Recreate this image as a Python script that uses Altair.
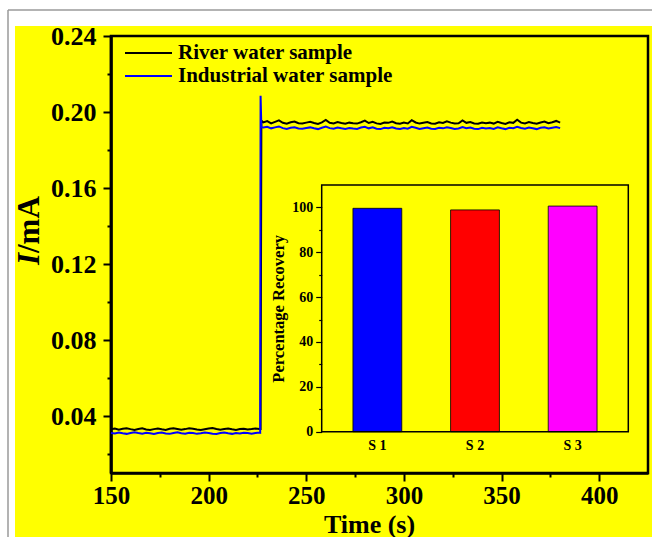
import altair as alt
import pandas as pd

FONT = "Liberation Serif"

# ---------------- main chronoamperogram data ----------------
series_names = ["River water sample", "Industrial water sample"]
series_colors = ["#000000", "#0000ff"]

t_base = list(range(150, 227, 2))  # 150 ... 226 s
river_base = [0.0330, 0.0334, 0.0328, 0.0333, 0.0336, 0.0331, 0.0327, 0.0332, 0.0335, 0.0329,
              0.0326, 0.0331, 0.0334, 0.0330, 0.0327, 0.0333, 0.0336, 0.0332, 0.0328, 0.0331,
              0.0335, 0.0333, 0.0329, 0.0326, 0.0330, 0.0334, 0.0337, 0.0332, 0.0328, 0.0331,
              0.0334, 0.0330, 0.0327, 0.0331, 0.0333, 0.0329, 0.0331, 0.0334, 0.0332]
ind_base = [0.0311, 0.0308, 0.0313, 0.0309, 0.0306, 0.0311, 0.0314, 0.0310, 0.0307, 0.0312,
            0.0309, 0.0305, 0.0310, 0.0313, 0.0308, 0.0306, 0.0311, 0.0314, 0.0309, 0.0307,
            0.0312, 0.0310, 0.0306, 0.0309, 0.0313, 0.0311, 0.0307, 0.0305, 0.0310, 0.0313,
            0.0309, 0.0306, 0.0311, 0.0308, 0.0312, 0.0310, 0.0307, 0.0311, 0.0313]

river_jump_t = [226.6, 227.0]
river_jump_v = [0.0332, 0.1955]
ind_jump_t = [226.4, 226.6, 227.0]
ind_jump_v = [0.0312, 0.2085, 0.1920]

t_plat = list(range(228, 381, 2))  # 228 ... 380 s
river_plat = [0.1945, 0.1952, 0.1940, 0.1948, 0.1956, 0.1943, 0.1938, 0.1946, 0.1950, 0.1941, 0.1939,
              0.1944, 0.1949, 0.1942, 0.1937, 0.1945, 0.1958, 0.1943, 0.1940, 0.1947, 0.1942, 0.1938,
              0.1944, 0.1941, 0.1939, 0.1946, 0.1955, 0.1942, 0.1948, 0.1940, 0.1937, 0.1945, 0.1943,
              0.1950, 0.1941, 0.1938, 0.1944, 0.1940, 0.1957, 0.1945, 0.1939, 0.1943, 0.1947, 0.1940,
              0.1938, 0.1946, 0.1942, 0.1951, 0.1944, 0.1939, 0.1941, 0.1956, 0.1943, 0.1947, 0.1940,
              0.1938, 0.1945, 0.1941, 0.1944, 0.1939, 0.1948, 0.1942, 0.1937, 0.1946, 0.1943, 0.1959,
              0.1944, 0.1940, 0.1947, 0.1942, 0.1938, 0.1945, 0.1950, 0.1941, 0.1946, 0.1953, 0.1944]
ind_plat = [0.1918, 0.1922, 0.1914, 0.1919, 0.1924, 0.1915, 0.1911, 0.1917, 0.1920, 0.1913, 0.1912,
            0.1916, 0.1919, 0.1914, 0.1910, 0.1917, 0.1923, 0.1915, 0.1912, 0.1918, 0.1914, 0.1911,
            0.1916, 0.1913, 0.1911, 0.1918, 0.1922, 0.1914, 0.1919, 0.1912, 0.1910, 0.1917, 0.1915,
            0.1920, 0.1913, 0.1911, 0.1916, 0.1912, 0.1922, 0.1917, 0.1911, 0.1915, 0.1918, 0.1912,
            0.1911, 0.1917, 0.1914, 0.1920, 0.1916, 0.1911, 0.1913, 0.1921, 0.1915, 0.1918, 0.1912,
            0.1910, 0.1917, 0.1913, 0.1916, 0.1911, 0.1919, 0.1914, 0.1910, 0.1917, 0.1915, 0.1922,
            0.1916, 0.1912, 0.1918, 0.1914, 0.1910, 0.1917, 0.1920, 0.1913, 0.1917, 0.1921, 0.1915]

x_ticks = [150, 175, 200, 225, 250, 275, 300, 325, 350, 375, 400]
y_ticks = [0.02, 0.04, 0.06, 0.08, 0.10, 0.12, 0.14, 0.16, 0.18, 0.20, 0.22, 0.24]

# ---------------- inset data ----------------
inset_samples = ["S 1", "S 2", "S 3"]
inset_recovery = [99.6, 98.9, 100.6]
inset_colors = ["#0000ff", "#ff0000", "#ff00ff"]
inset_ticks = [0, 10, 20, 30, 40, 50, 60, 70, 80, 90, 100]

# ---------------- build tables ----------------
river_t = t_base + river_jump_t + t_plat
river_v = river_base + river_jump_v + river_plat
ind_t = t_base + ind_jump_t + t_plat
ind_v = ind_base + ind_jump_v + ind_plat
lines_df = pd.DataFrame({
    "t": river_t + ind_t,
    "v": river_v + ind_v,
    "series": [series_names[0]] * len(river_t) + [series_names[1]] * len(ind_t),
})
bars_df = pd.DataFrame({"sample": inset_samples, "rec": inset_recovery})
one = pd.DataFrame({"k": [0]})

W, H = 537, 437

# decorations outside the plot (white margin + grey border)
margin_left = alt.Chart(one).mark_rect(color="white").encode(
    x=alt.value(-111), x2=alt.value(-96), y=alt.value(-36), y2=alt.value(H + 64))
margin_top = alt.Chart(one).mark_rect(color="white").encode(
    x=alt.value(-111), x2=alt.value(W + 4), y=alt.value(-36), y2=alt.value(-10))
border_left = alt.Chart(one).mark_rule(color="#9a9a9a", strokeWidth=1.5).encode(
    x=alt.value(-103), y=alt.value(-26), y2=alt.value(H + 64))
border_top = alt.Chart(one).mark_rule(color="#9a9a9a", strokeWidth=1.5).encode(
    x=alt.value(-103), x2=alt.value(W + 4), y=alt.value(-26))
left_frame = alt.Chart(one).mark_rule(color="black", strokeWidth=2.5).encode(
    x=alt.value(0), y=alt.value(0), y2=alt.value(H))

lines = alt.Chart(lines_df).mark_line(strokeWidth=2).encode(
    x=alt.X("t:Q", scale=alt.Scale(domain=[150, 425], nice=False, zero=False),
            axis=alt.Axis(values=x_ticks, orient="bottom",
                          labelExpr="datum.value % 50 == 0 ? datum.label : ''",
                          tickSize={"condition": {"test": "datum.value % 50 == 0", "value": 8}, "value": 4},
                          tickWidth=2, labelFontSize=25, labelPadding=2, labelFlush=False,
                          labelOverlap=False, domainWidth=2.5, domainColor="black",
                          title="Time (s)", titleFontSize=26, titleX=258, titleY=59,
                          titleBaseline="alphabetic", titleAlign="center")),
    y=alt.Y("v:Q", scale=alt.Scale(domain=[0.01, 0.24], nice=False, zero=False),
            axis=alt.Axis(values=y_ticks, orient="left", format=".2f",
                          labelExpr="round(datum.value * 100) % 4 == 0 ? datum.label : ''",
                          tickSize={"condition": {"test": "round(datum.value * 100) % 4 == 0", "value": 8}, "value": 4},
                          tickWidth=2, labelFontSize=26, labelPadding=7, labelFlush=False,
                          labelOverlap=False, domainWidth=2.5, domainColor="black",
                          title=None)),
    color=alt.Color("series:N", scale=alt.Scale(domain=series_names, range=series_colors), legend=None),
)

# y-axis title "I/mA" with italic I
title_parts = ["I", "/mA"]
title_styles = ["italic", "normal"]
title_y = [229, 217]
title_layers = []
for part, sty, yy in zip(title_parts, title_styles, title_y):
    title_layers.append(alt.Chart(pd.DataFrame({"label": [part]})).mark_text(
        angle=270, align="left", baseline="alphabetic", font=FONT, fontWeight="bold",
        fontStyle=sty, fontSize=31, color="black"
    ).encode(x=alt.value(-72), y=alt.value(yy), text="label:N"))

legend_layers = []
for name, col, yy in zip(series_names, series_colors, [17, 40]):
    legend_layers.append(alt.Chart(one).mark_rule(color=col, strokeWidth=2).encode(
        x=alt.value(14), x2=alt.value(61), y=alt.value(yy)))
    legend_layers.append(alt.Chart(pd.DataFrame({"label": [name]})).mark_text(
        align="left", baseline="middle", font=FONT, fontWeight="bold", fontSize=21, color="black"
    ).encode(x=alt.value(67), y=alt.value(yy), text="label:N"))

# inset bar chart
IX0, IX1 = 210.7, 517.3
IY0, IY1 = 395.7, 149
bars = alt.Chart(bars_df).mark_bar(stroke="black", strokeWidth=0.8).encode(
    x=alt.X("sample:N", sort=inset_samples,
            scale=alt.Scale(range=[IX0, IX1], paddingInner=0.5, paddingOuter=0.32),
            axis=alt.Axis(orient="bottom", offset=-(H - IY0), ticks=False, domain=False,
                          labelAngle=0, labelFontSize=14, labelPadding=7, title=None)),
    y=alt.Y("rec:Q", scale=alt.Scale(domain=[0, 110], range=[IY0, IY1], nice=False),
            axis=alt.Axis(orient="left", offset=-IX0, values=inset_ticks, domain=False,
                          labelExpr="datum.value % 20 == 0 ? datum.label : ''",
                          tickSize={"condition": {"test": "datum.value % 20 == 0", "value": 6}, "value": 3},
                          tickWidth=1.2, labelFontSize=14, labelPadding=3, labelOverlap=False,
                          labelFlush=False,
                          title="Percentage Recovery", titleFontSize=16.5, titleX=-38,
                          titleBaseline="alphabetic")),
    color=alt.Color("sample:N", scale=alt.Scale(domain=inset_samples, range=inset_colors), legend=None),
)
inset_frame = alt.Chart(one).mark_rect(filled=False, stroke="black", strokeWidth=1.5).encode(
    x=alt.value(IX0), x2=alt.value(IX1), y=alt.value(IY1), y2=alt.value(IY0))

chart = alt.layer(
    margin_left, margin_top, border_left, border_top, left_frame,
    lines, *title_layers, *legend_layers, bars, inset_frame
).resolve_scale(
    x="independent", y="independent", color="independent"
).properties(
    width=W, height=H,
    padding={"left": 111, "top": 36, "right": 4, "bottom": 64},
    autosize=alt.AutoSizeParams(type="none"),
    background="#ffff00",
).configure_view(
    stroke="black", strokeWidth=2.5, fill=None
).configure_axis(
    grid=False, labelFont=FONT, labelFontWeight="bold", labelColor="black",
    titleFont=FONT, titleFontWeight="bold", titleColor="black",
    tickColor="black", domainColor="black",
)

chart.save("out.html", embed_options={"renderer": "svg", "actions": False})
